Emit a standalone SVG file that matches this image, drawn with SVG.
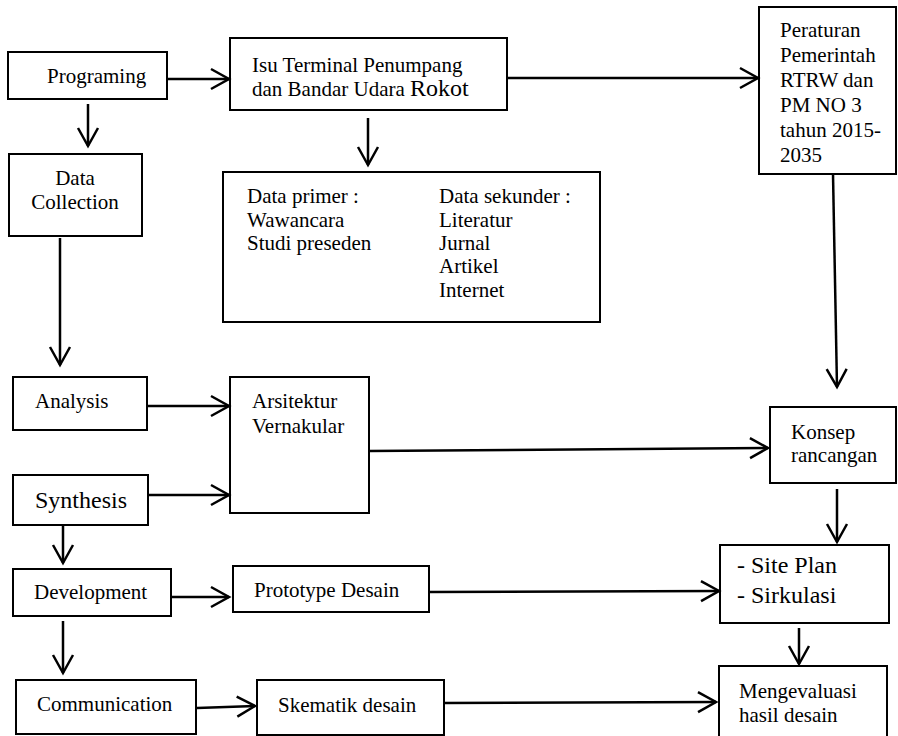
<svg xmlns="http://www.w3.org/2000/svg" width="898" height="736" viewBox="0 0 898 736">
<style>
.box{fill:#fff;stroke:#000;stroke-width:2}
.t{font-family:"Liberation Serif","Times New Roman",serif;font-size:21px;fill:#000}
.big{font-size:24px}
.c{text-anchor:middle}
.con line{stroke:#000;stroke-width:2.5;marker-end:url(#ah)}
</style>
<defs>
<marker id="ah" markerUnits="userSpaceOnUse" viewBox="-20 -12 22 24" refX="0" refY="0" markerWidth="22" markerHeight="24" orient="auto" overflow="visible">
<path d="M-18,-10 L0,0 L-18,10" fill="none" stroke="#000" stroke-width="2.5"/>
</marker>
</defs>
<rect width="898" height="736" fill="#fff"/>
<g id="programing"><rect class="box" x="8" y="52" width="159" height="47"/><text class="t" x="47" y="83">Programing</text></g>
<g id="isu"><rect class="box" x="230" y="38" width="277" height="72"/><text class="t" x="252" y="72">Isu Terminal Penumpang</text><text class="t" x="252" y="96">dan Bandar Udara <tspan class="big">Rokot</tspan></text></g>
<g id="peraturan"><rect class="box" x="759" y="7" width="137" height="167"/>
<text class="t" x="780" y="37">Peraturan</text><text class="t" x="780" y="62">Pemerintah</text><text class="t" x="780" y="87">RTRW dan</text><text class="t" x="780" y="112">PM NO 3</text><text class="t" x="780" y="137">tahun 2015-</text><text class="t" x="780" y="162">2035</text></g>
<g id="datacollection"><rect class="box" x="9" y="154" width="133" height="82"/><text class="t c" x="75" y="185">Data</text><text class="t c" x="75" y="209">Collection</text></g>
<g id="data"><rect class="box" x="223" y="172" width="377" height="150"/>
<text class="t" x="247" y="203">Data primer :</text><text class="t" x="247" y="227">Wawancara</text><text class="t" x="247" y="250">Studi preseden</text>
<text class="t" x="439" y="203">Data sekunder :</text><text class="t" x="439" y="227">Literatur</text><text class="t" x="439" y="250">Jurnal</text><text class="t" x="439" y="273">Artikel</text><text class="t" x="439" y="297">Internet</text></g>
<g id="analysis"><rect class="box" x="13" y="377" width="134" height="53"/><text class="t" x="35" y="408">Analysis</text></g>
<g id="arsitektur"><rect class="box" x="230" y="377" width="139" height="136"/><text class="t" x="252" y="408">Arsitektur</text><text class="t" x="252" y="433">Vernakular</text></g>
<g id="synthesis"><rect class="box" x="13" y="475" width="135" height="50"/><text class="t big" x="35" y="508">Synthesis</text></g>
<g id="konsep"><rect class="box" x="770" y="407" width="126" height="76"/><text class="t" x="791" y="439">Konsep</text><text class="t" x="791" y="462">rancangan</text></g>
<g id="development"><rect class="box" x="13" y="569" width="158" height="47"/><text class="t" x="34" y="599">Development</text></g>
<g id="prototype"><rect class="box" x="233" y="566" width="196" height="46"/><text class="t" x="254" y="597">Prototype Desain</text></g>
<g id="siteplan"><rect class="box" x="720" y="545" width="169" height="78"/><text class="t big" x="737" y="573">- Site Plan</text><text class="t big" x="737" y="603">- Sirkulasi</text></g>
<g id="communication"><rect class="box" x="16" y="680" width="180" height="54"/><text class="t" x="37" y="711">Communication</text></g>
<g id="skematik"><rect class="box" x="257" y="680" width="187" height="55"/><text class="t" x="278" y="712">Skematik desain</text></g>
<g id="mengevaluasi"><rect class="box" x="719" y="666" width="168" height="72"/><text class="t" x="739" y="698">Mengevaluasi</text><text class="t" x="739" y="722">hasil desain</text></g>
<g class="con" id="connectors">
<line x1="167" y1="79" x2="229" y2="79"/>
<line x1="507" y1="78" x2="758" y2="78"/>
<line x1="88" y1="104" x2="88" y2="146"/>
<line x1="368" y1="118" x2="368" y2="165"/>
<line x1="833" y1="174" x2="837" y2="387"/>
<line x1="60" y1="238" x2="60" y2="365"/>
<line x1="147" y1="406" x2="229" y2="406"/>
<line x1="148" y1="495" x2="229" y2="495"/>
<line x1="369" y1="451" x2="768" y2="448"/>
<line x1="837" y1="489" x2="837" y2="542"/>
<line x1="63" y1="526" x2="63" y2="563"/>
<line x1="171" y1="597" x2="229" y2="597"/>
<line x1="429" y1="592" x2="719" y2="591"/>
<line x1="799" y1="628" x2="799" y2="664"/>
<line x1="63" y1="621" x2="63" y2="673"/>
<line x1="197" y1="708" x2="255" y2="706"/>
<line x1="444" y1="703" x2="716" y2="702"/>
</g>
</svg>
